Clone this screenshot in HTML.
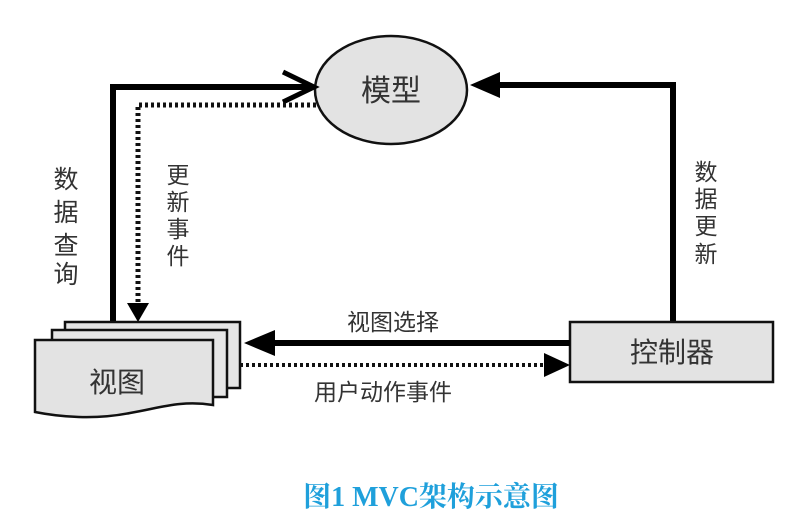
<!DOCTYPE html>
<html><head><meta charset="utf-8"><style>
html,body{margin:0;padding:0;background:#fff;}
svg{display:block}
text{font-family:"Liberation Sans","Noto Sans CJK SC",sans-serif;fill:#333;}
</style></head><body>
<svg width="800" height="525" viewBox="0 0 800 525" xmlns="http://www.w3.org/2000/svg">
<!-- model -->
<ellipse cx="391" cy="90" rx="76" ry="54" fill="#e3e3e3" stroke="#111" stroke-width="2.5"/>
<text x="391" y="101" font-size="30" text-anchor="middle">模型</text>
<!-- solid line view->model -->
<polyline points="113,322 113,87 312,87" fill="none" stroke="#000" stroke-width="6"/>
<polyline points="283,72 314,87 283,102" fill="none" stroke="#000" stroke-width="5"/>
<!-- dotted model->view -->
<polyline points="316,105 138,105 138,310" fill="none" stroke="#111" stroke-width="5" stroke-dasharray="3,3"/>
<polygon points="127,303 149,303 138,322" fill="#000"/>
<!-- right line controller->model -->
<polyline points="673,322 673,85 490,85" fill="none" stroke="#000" stroke-width="6"/>
<polygon points="470,85 500,72 500,98" fill="#000"/>
<!-- view stack -->
<rect x="65" y="322" width="175" height="66" fill="#e6e6e6" stroke="#111" stroke-width="2.5"/>
<rect x="52" y="330" width="175" height="67" fill="#e6e6e6" stroke="#111" stroke-width="2.5"/>
<path d="M35,340 L213,340 L213,405 C180,400 160,408 130,413 C95,420 60,417 35,412 Z" fill="#e3e3e3" stroke="#111" stroke-width="2.5"/>
<text x="117" y="392" font-size="28" text-anchor="middle">视图</text>
<!-- controller -->
<rect x="570" y="322" width="203" height="60" fill="#e3e3e3" stroke="#111" stroke-width="2.5"/>
<text x="672" y="362" font-size="28" text-anchor="middle">控制器</text>
<!-- view selection -->
<line x1="570" y1="343" x2="268" y2="343" stroke="#000" stroke-width="6"/>
<polygon points="244,343 275,330 275,356" fill="#000"/>
<!-- user action dotted -->
<line x1="240" y1="365" x2="548" y2="365" stroke="#111" stroke-width="4" stroke-dasharray="3,3"/>
<polygon points="570,365 544,353 544,377" fill="#000"/>
<!-- labels -->
<g font-size="25">
<text x="66" y="188" text-anchor="middle">数</text>
<text x="66" y="221" text-anchor="middle">据</text>
<text x="66" y="254" text-anchor="middle">查</text>
<text x="66" y="283" text-anchor="middle">询</text>
</g>
<g font-size="23">
<text x="178" y="183" text-anchor="middle">更</text>
<text x="178" y="210" text-anchor="middle">新</text>
<text x="178" y="237" text-anchor="middle">事</text>
<text x="178" y="264" text-anchor="middle">件</text>
<text x="706" y="180" text-anchor="middle">数</text>
<text x="706" y="207" text-anchor="middle">据</text>
<text x="706" y="234" text-anchor="middle">更</text>
<text x="706" y="262" text-anchor="middle">新</text>
</g>
<text x="393" y="330" font-size="23" text-anchor="middle">视图选择</text>
<text x="383" y="400" font-size="23" text-anchor="middle">用户动作事件</text>
<text x="431" y="506" font-size="28" font-weight="bold" text-anchor="middle" style="fill:#1fa0db;font-family:'Liberation Serif','Noto Serif CJK SC',serif">图1 MVC架构示意图</text>
</svg>
</body></html>
